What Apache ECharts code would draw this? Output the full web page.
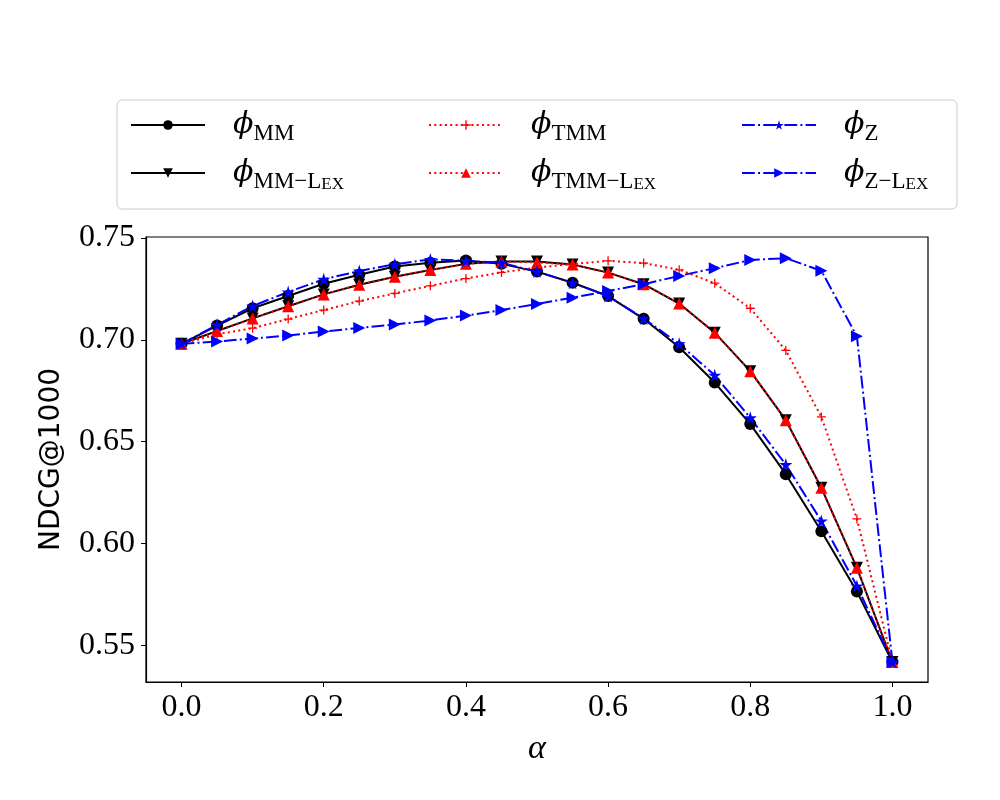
<!DOCTYPE html>
<html>
<head>
<meta charset="utf-8">
<script src="https://cdn.jsdelivr.net/npm/echarts@6/dist/echarts.min.js"></script>
<style>
  html, body { margin: 0; padding: 0; background: #fff; }
  #main { width: 1000px; height: 800px; }
</style>
</head>
<body>
<div id="main"></div>
<script>
// alpha values on x axis
var alpha = [0.0, 0.05, 0.1, 0.15, 0.2, 0.25, 0.3, 0.35, 0.4, 0.45, 0.5,
             0.55, 0.6, 0.65, 0.7, 0.75, 0.8, 0.85, 0.9, 0.95, 1.0];

var mm     = [0.698, 0.707, 0.7155, 0.7215, 0.7275, 0.732, 0.736, 0.7378, 0.739, 0.7373, 0.7335,
              0.728, 0.7215, 0.7103, 0.6963, 0.679, 0.6586, 0.634, 0.606, 0.5763, 0.5417];
var mmLex  = [0.698, 0.7043, 0.7105, 0.7165, 0.7223, 0.727, 0.731, 0.7343, 0.7373, 0.7385, 0.7385,
              0.737, 0.733, 0.7273, 0.7178, 0.7035, 0.6846, 0.6605, 0.6273, 0.588, 0.5417];
var tmm    = [0.698, 0.7027, 0.7057, 0.7102, 0.7146, 0.719, 0.7228, 0.7265, 0.7301, 0.7331, 0.7355,
              0.7372, 0.7388, 0.7377, 0.7344, 0.7278, 0.7155, 0.6948, 0.6621, 0.612, 0.5417];
var tmmLex = [0.698, 0.7043, 0.7105, 0.7165, 0.7223, 0.727, 0.731, 0.7343, 0.7373, 0.7385, 0.738,
              0.737, 0.733, 0.7273, 0.7178, 0.7035, 0.6846, 0.6605, 0.6273, 0.588, 0.5417];
var z      = [0.698, 0.7074, 0.7166, 0.7235, 0.7297, 0.7338, 0.7371, 0.7395, 0.7388, 0.7378, 0.7335,
              0.728, 0.7215, 0.7105, 0.698, 0.6826, 0.6617, 0.6387, 0.611, 0.5791, 0.5417];
var zLex   = [0.698, 0.6992, 0.7006, 0.7021, 0.7041, 0.7058, 0.7075, 0.7095, 0.7119, 0.7146, 0.7176,
              0.7207, 0.724, 0.7273, 0.7314, 0.7352, 0.7392, 0.7401, 0.7339, 0.7017, 0.5417];

var xTicks = [0.0, 0.2, 0.4, 0.6, 0.8, 1.0];
var yTicks = [0.55, 0.60, 0.65, 0.70, 0.75];

var myChart = echarts.init(document.getElementById('main'));

function pairs(ys) {
    var out = [];
    for (var i = 0; i < alpha.length; i++) out.push([alpha[i], ys[i]]);
    return out;
}

var plusPath = 'path://M4.3,0H5.7V4.3H10V5.7H5.7V10H4.3V5.7H0V4.3H4.3Z';
var starPath = 'path://M50,0L61,35L98,35L68,57L79,91L50,70L21,91L32,57L2,35L39,35Z';

// legend labels as rich text (phi with subscript)
var labels = {
    'MM':      '{sp|}{phi|ϕ}{sub|MM}',
    'MM-Lex':  '{sp|}{phi|ϕ}{sub|MM−L}{sc|EX}',
    'TMM':     '{sp|}{phi|ϕ}{sub|TMM}',
    'TMM-Lex': '{sp|}{phi|ϕ}{sub|TMM−L}{sc|EX}',
    'Z':       '{sp|}{phi|ϕ}{sub|Z}',
    'Z-Lex':   '{sp|}{phi|ϕ}{sub|Z−L}{sc|EX}'
};
var rich = {
    sp:  { width: 23 },
    phi: { fontFamily: 'DejaVu Serif', fontStyle: 'italic', fontSize: 30, lineHeight: 40, color: '#000' },
    sub: { fontFamily: 'Liberation Serif', fontSize: 23, verticalAlign: 'bottom', lineHeight: 30, color: '#000' },
    sc:  { fontFamily: 'Liberation Serif', fontSize: 17, verticalAlign: 'bottom', lineHeight: 27, color: '#000' }
};
function legendCol(names, left) {
    return {
        data: names, left: left, top: 105, orient: 'vertical',
        itemWidth: 74, itemHeight: 12, itemGap: 13,
        formatter: function (n) { return labels[n]; },
        textStyle: { rich: rich },
        inactiveColor: '#000'
    };
}

function line(name, ys, color, dash, symbol, size, rotate) {
    return {
        name: name, type: 'line', data: pairs(ys),
        symbol: symbol, symbolSize: size, symbolRotate: rotate || 0,
        showAllSymbol: true,
        lineStyle: { color: color, width: 2, type: dash },
        itemStyle: { color: color },
        emphasis: { disabled: true },
        animation: false
    };
}

var dotted = [2, 3.3];
var dashdot = [12.8, 3.2, 2, 3.2];

var option = {
    backgroundColor: '#fff',
    animation: false,
    graphic: [{
        type: 'rect', z: 0,
        shape: { x: 117, y: 100, width: 840, height: 109, r: 5 },
        style: { fill: '#fff', stroke: '#cccccc', lineWidth: 1 }
    }],
    legend: [
        legendCol(['MM', 'MM-Lex'], 125),
        legendCol(['TMM', 'TMM-Lex'], 423),
        legendCol(['Z', 'Z-Lex'], 736)
    ],
    grid: {
        left: 146, right: 72, top: 237, bottom: 118,
        show: true, borderColor: '#000', borderWidth: 1.2, backgroundColor: '#fff'
    },
    xAxis: {
        type: 'value', min: -0.05, max: 1.05,
        name: 'α', nameLocation: 'middle', nameGap: 50,
        nameTextStyle: { fontFamily: 'Liberation Serif', fontStyle: 'italic', fontSize: 34, color: '#000' },
        axisLine: { show: true, onZero: false, lineStyle: { color: '#000', width: 1.2 } },
        axisTick: { show: true, length: 5, lineStyle: { color: '#000' }, customValues: xTicks },
        axisLabel: {
            customValues: xTicks, margin: 10, color: '#000',
            fontFamily: 'Liberation Serif', fontSize: 32,
            formatter: function (v) { return v.toFixed(1); }
        },
        splitLine: { show: false }
    },
    yAxis: {
        type: 'value', min: 0.5319, max: 0.7505,
        name: 'NDCG@1000', nameLocation: 'middle', nameGap: 80, nameRotate: 90,
        nameTextStyle: { fontFamily: 'DejaVu Sans', fontSize: 28, color: '#000' },
        axisLine: { show: true, onZero: false, lineStyle: { color: '#000', width: 1.2 } },
        axisTick: { show: true, length: 5, lineStyle: { color: '#000' }, customValues: yTicks },
        axisLabel: {
            customValues: yTicks, margin: 11, color: '#000',
            fontFamily: 'Liberation Serif', fontSize: 32,
            formatter: function (v) { return v.toFixed(2); }
        },
        splitLine: { show: false }
    },
    series: [
        line('MM', mm, '#000000', 'solid', 'circle', 12),
        line('MM-Lex', mmLex, '#000000', 'solid', 'triangle', 12, 180),
        line('TMM', tmm, '#ff0000', dotted, plusPath, 9),
        line('TMM-Lex', tmmLex, '#ff0000', dotted, 'triangle', 12),
        line('Z', z, '#0000ff', dashdot, starPath, 13),
        line('Z-Lex', zLex, '#0000ff', dashdot, 'triangle', 12, -90)
    ]
};

myChart.setOption(option);
</script>
</body>
</html>
